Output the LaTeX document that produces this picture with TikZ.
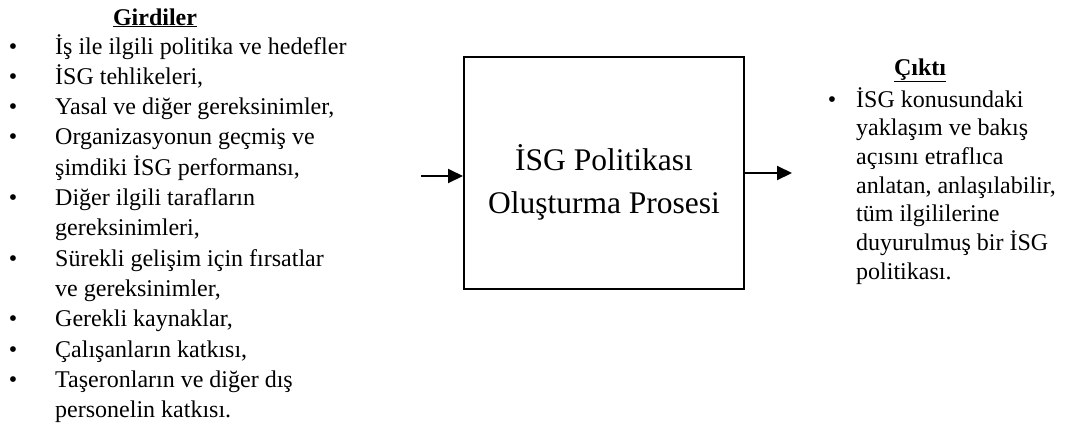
\documentclass[tikz,border=0pt]{standalone}
\usepackage{fontspec}
\setmainfont{Liberation Serif}
\usetikzlibrary{arrows.meta}
\begin{document}
\begin{tikzpicture}[x=1pt,y=-1pt,
  txt/.style={anchor=base west, inner sep=0pt, font=\fontsize{24}{30}\selectfont},
  bul/.style={anchor=base, inner sep=0pt, font=\fontsize{24}{30}\selectfont},
  head/.style={anchor=base, inner sep=0pt, font=\fontsize{24}{30}\selectfont\bfseries},
  boxtxt/.style={anchor=base, inner sep=0pt, font=\fontsize{31.5}{43}\selectfont},
  procbox/.style={draw, line width=2pt, rectangle, minimum width=280pt, minimum height=232pt, inner sep=0pt},
  flow/.style={line width=2pt, -{Triangle[length=15pt,width=14pt]}}
]
\useasboundingbox (0,0) rectangle (1078,429);
% left inputs
\node[head] (gh) at (155,25) {\underline{Girdiler}};
\node[bul] (b1) at (13,54) {•};
\node[txt] (l1) at (55,54) {İş ile ilgili politika ve hedefler};
\node[bul] (b2) at (13,84.3) {•};
\node[txt] (l2) at (55,84.3) {İSG tehlikeleri,};
\node[bul] (b3) at (13,114.6) {•};
\node[txt] (l3) at (55,114.6) {Yasal ve diğer gereksinimler,};
\node[bul] (b4) at (13,144.9) {•};
\node[txt] (l4) at (55,144.9) {Organizasyonun geçmiş ve};
\node[txt] (l5) at (55,175.2) {şimdiki İSG performansı,};
\node[bul] (b6) at (13,205.5) {•};
\node[txt] (l6) at (55,205.5) {Diğer ilgili tarafların};
\node[txt] (l7) at (55,235.8) {gereksinimleri,};
\node[bul] (b8) at (13,266.1) {•};
\node[txt] (l8) at (55,266.1) {Sürekli gelişim için fırsatlar};
\node[txt] (l9) at (55,296.4) {ve gereksinimler,};
\node[bul] (b10) at (13,326.7) {•};
\node[txt] (l10) at (55,326.7) {Gerekli kaynaklar,};
\node[bul] (b11) at (13,357) {•};
\node[txt] (l11) at (55,357) {Çalışanların katkısı,};
\node[bul] (b12) at (13,387.3) {•};
\node[txt] (l12) at (55,387.3) {Taşeronların ve diğer dış};
\node[txt] (l13) at (55,417.6) {personelin katkısı.};
% process box
\node[procbox] (box) at (604,173) {};
\node[boxtxt] (bt1) at (604,170) {İSG Politikası};
\node[boxtxt] (bt2) at (604,213) {Oluşturma Prosesi};
% arrows
\coordinate (inA) at (421,176);
\coordinate (outA) at (792,173);
\draw[flow] (inA) -- (inA -| box.west);
\draw[flow] (outA -| box.east) -- (outA);
% right output
\node[head] (ch) at (920,75) {\underline{Çıktı}};
\node[bul] (rb) at (832,107) {•};
\node[txt] (r1) at (856,107) {İSG konusundaki};
\node[txt] (r2) at (856,135.7) {yaklaşım ve bakış};
\node[txt] (r3) at (856,164.4) {açısını etraflıca};
\node[txt] (r4) at (856,193.1) {anlatan, anlaşılabilir,};
\node[txt] (r5) at (856,221.8) {tüm ilgililerine};
\node[txt] (r6) at (856,250.5) {duyurulmuş bir İSG};
\node[txt] (r7) at (856,279.2) {politikası.};
\end{tikzpicture}
\end{document}
